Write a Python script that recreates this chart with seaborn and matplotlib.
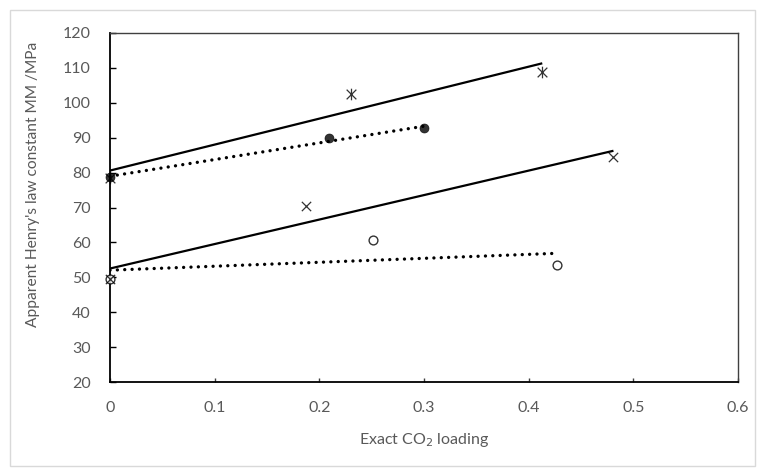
import numpy as np
import pandas as pd
import matplotlib
matplotlib.use("Agg")
import matplotlib.pyplot as plt
from matplotlib.path import Path
from matplotlib.patches import Rectangle
import seaborn as sns

# values
loading_star = [0.0, 0.230, 0.413]
henry_star = [78.5, 102.4, 108.7]

loading_dot = [0.0, 0.209, 0.300]
henry_dot = [78.7, 89.8, 92.7]

loading_cross = [0.0, 0.187, 0.481]
henry_cross = [49.6, 70.4, 84.4]

loading_ring = [0.0, 0.251, 0.427]
henry_ring = [49.6, 60.8, 53.4]

x_ticks = [0, 0.1, 0.2, 0.3, 0.4, 0.5, 0.6]
y_ticks = [20, 30, 40, 50, 60, 70, 80, 90, 100, 110, 120]

sns.set_theme(style="white")
plt.rcParams["font.family"] = ["Lato", "DejaVu Sans"]
text_col = "#595959"

# excel style star: an x with a vertical bar
star = Path([(-1, -1), (1, 1), (-1, 1), (1, -1), (0, -1.2), (0, 1.2)],
            [Path.MOVETO, Path.LINETO, Path.MOVETO, Path.LINETO, Path.MOVETO, Path.LINETO])

fig = plt.figure(figsize=(7.65, 4.68), dpi=100)
ax = fig.add_axes([110 / 765, 1 - 382 / 468, 628 / 765, 349 / 468])

solid = dict(color="black", lw=1.6, solid_capstyle="butt")
dotted = dict(color="black", lw=2.4, linestyle=(0, (0.01, 2.2)), dash_capstyle="round")

df_star = pd.DataFrame({"x": loading_star, "y": henry_star})
sns.regplot(data=df_star, x="x", y="y", ax=ax, ci=None, marker=star, color="black",
            scatter_kws=dict(s=70, linewidths=0.9, zorder=5, clip_on=False), line_kws=solid)

df_dot = pd.DataFrame({"x": loading_dot, "y": henry_dot})
sns.regplot(data=df_dot, x="x", y="y", ax=ax, ci=None, marker="o", color="black",
            scatter_kws=dict(s=42, linewidths=0.5, zorder=4, clip_on=False), line_kws=dotted)

df_ring = pd.DataFrame({"x": loading_ring, "y": henry_ring})
sns.regplot(data=df_ring, x="x", y="y", ax=ax, ci=None, marker="o", color="black",
            scatter_kws=dict(s=40, linewidths=1.0, facecolors="white", zorder=3, clip_on=False),
            line_kws=dotted)

df_cross = pd.DataFrame({"x": loading_cross, "y": henry_cross})
sns.regplot(data=df_cross, x="x", y="y", ax=ax, ci=None, marker="x", color="black",
            scatter_kws=dict(s=45, linewidths=0.9, zorder=5, clip_on=False), line_kws=solid)

ax.set_xlim(0, 0.6)
ax.set_ylim(20, 120)
ax.set_xticks(x_ticks)
ax.set_xticklabels([f"{t:g}" for t in x_ticks])
ax.set_yticks(y_ticks)
ax.tick_params(axis="y", direction="in", left=True, length=4.5, width=1.0,
               pad=14, labelsize=11.5, labelcolor=text_col, color="black")
ax.tick_params(axis="x", direction="in", bottom=True, length=3, width=1.0,
               pad=14, labelsize=11.5, labelcolor=text_col, color="#404040")

for side in ["left", "bottom"]:
    ax.spines[side].set_color("black")
    ax.spines[side].set_linewidth(1.3)
for side in ["top", "right"]:
    ax.spines[side].set_color("#404040")
    ax.spines[side].set_linewidth(1.0)

ax.set_xlabel("Exact CO$_2$ loading", fontsize=11.5, color=text_col, labelpad=11)
ax.set_ylabel("Apparent Henry's law constant MM /MPa", fontsize=11.2, color=text_col)
ax.yaxis.set_label_coords(-0.111, 0.567)

# light chart-area border
fig.patches.append(Rectangle((10 / 765, 2 / 468), 745 / 765, 456 / 468,
                             transform=fig.transFigure, fill=False,
                             edgecolor="#d9d9d9", lw=1.0))

fig.savefig("out.png", dpi=100)
